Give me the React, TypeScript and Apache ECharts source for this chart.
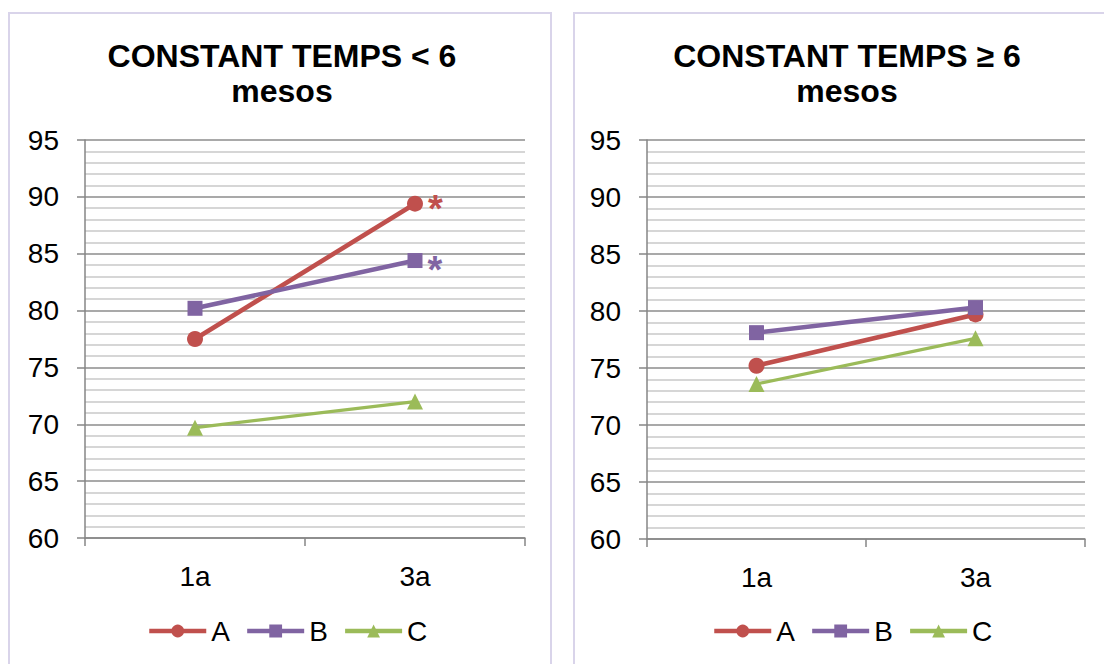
import React, { useEffect, useRef } from "react";
import * as echarts from "echarts";

// Categories (time points) shared by both panels
const categories = ["1a", "3a"];

// Panel 1: CONSTANT TEMPS < 6 mesos
const leftA = [77.5, 89.4];
const leftB = [80.2, 84.4];
const leftC = [69.7, 72.0];
// significance marks shown next to the points
const leftMarksA = ["", "*"];
const leftMarksB = ["", "*"];
const leftMarksC = ["", ""];

// Panel 2: CONSTANT TEMPS ≥ 6 mesos
const rightA = [75.2, 79.7];
const rightB = [78.1, 80.3];
const rightC = [73.6, 77.6];

const seriesNames = ["A", "B", "C"];
const titles = ["CONSTANT TEMPS < 6\nmesos", "CONSTANT TEMPS \u2265 6\nmesos"];

const yMin = 60;
const yMax = 95;
const yStep = 5;

const COLORS = { A: "#c0504d", B: "#8064a2", C: "#9bbb59" };
const FONT = "'Liberation Sans', Arial, Helvetica, sans-serif";
const AXIS_GREY = "#868686";

function makeYAxis(gridIndex: number) {
  return {
    type: "value",
    gridIndex,
    min: yMin,
    max: yMax,
    interval: yStep,
    axisLine: { show: true, lineStyle: { color: AXIS_GREY, width: 1.5 } },
    axisTick: { show: true, length: 8, lineStyle: { color: AXIS_GREY, width: 1.5 } },
    axisLabel: { fontSize: 28, color: "#000", fontFamily: FONT, margin: 26 },
    splitLine: { show: true, lineStyle: { color: "#8c8c8c", width: 1.6 } },
    minorTick: { show: false, splitNumber: 5 },
    minorSplitLine: { show: true, lineStyle: { color: "#c8c8c8", width: 1.6 } },
  };
}

function makeXAxis(gridIndex: number) {
  return {
    type: "category",
    gridIndex,
    data: categories,
    boundaryGap: true,
    axisLine: { show: true, lineStyle: { color: AXIS_GREY, width: 1.5 } },
    axisTick: { show: true, length: 8, interval: 0, lineStyle: { color: AXIS_GREY, width: 1.5 } },
    axisLabel: { fontSize: 28, color: "#000", fontFamily: FONT, margin: 24 },
    splitLine: { show: false },
  };
}

type Key = "A" | "B" | "C";

function makeSeries(
  name: Key,
  values: number[],
  gridIndex: number,
  marks: string[] | null,
  markOffset: number
) {
  const symbol = name === "A" ? "circle" : name === "B" ? "rect" : "triangle";
  const color = COLORS[name];
  return {
    type: "line",
    name,
    xAxisIndex: gridIndex,
    yAxisIndex: gridIndex,
    symbol,
    symbolSize: name === "B" ? 15 : 16,
    showAllSymbol: true,
    lineStyle: { color, width: name === "C" ? 3.2 : 4.6 },
    itemStyle: { color },
    emphasis: { disabled: true },
    data: values.map((v, i) => {
      const m = marks ? marks[i] : "";
      if (!m) return { value: v };
      return {
        value: v,
        label: {
          show: true,
          position: "right",
          distance: 5,
          offset: [0, markOffset],
          formatter: m,
          color,
          fontSize: 38,
          fontWeight: "bold",
          fontFamily: FONT,
        },
      };
    }),
  };
}

function makeLegend(left: number) {
  return {
    data: seriesNames,
    left,
    top: 617,
    orient: "horizontal",
    itemWidth: 57,
    itemHeight: 16,
    itemGap: 15,
    padding: 0,
    selectedMode: false,
    lineStyle: { width: 4.5 },
    textStyle: { fontSize: 28, color: "#000", fontFamily: FONT },
  };
}

function titleText(x: number, text: string) {
  return {
    type: "text",
    silent: true,
    x,
    y: 38,
    style: {
      text,
      textAlign: "center",
      textVerticalAlign: "top",
      fontSize: 32,
      fontWeight: "bold",
      fontFamily: FONT,
      lineHeight: 35,
      fill: "#000",
    },
  };
}

export default function App() {
  const ref = useRef<HTMLDivElement>(null);

  useEffect(() => {
    if (!ref.current) return;
    const chart = echarts.init(ref.current, null, { renderer: "svg" });

    const option = {
      animation: false,
      backgroundColor: "#ffffff",
      grid: [
        { left: 85, right: 1104 - 525, top: 140, bottom: 664 - 538 },
        { left: 647, right: 1104 - 1085, top: 140, bottom: 664 - 539 },
      ],
      xAxis: [makeXAxis(0), makeXAxis(1)],
      yAxis: [makeYAxis(0), makeYAxis(1)],
      legend: [makeLegend(147), makeLegend(712)],
      graphic: [
        {
          type: "rect",
          silent: true,
          shape: { x: 9, y: 13, width: 542, height: 700 },
          style: { fill: "none", stroke: "#d9d4ea", lineWidth: 2 },
        },
        {
          type: "rect",
          silent: true,
          shape: { x: 574, y: 13, width: 600, height: 700 },
          style: { fill: "none", stroke: "#d9d4ea", lineWidth: 2 },
        },
        titleText(282, titles[0]),
        titleText(847, titles[1]),
      ],
      series: [
        makeSeries("A", leftA, 0, leftMarksA, 5),
        makeSeries("B", leftB, 0, leftMarksB, 9),
        makeSeries("C", leftC, 0, leftMarksC, 0),
        makeSeries("A", rightA, 1, null, 0),
        makeSeries("B", rightB, 1, null, 0),
        makeSeries("C", rightC, 1, null, 0),
      ],
    };

    chart.setOption(option as any);
    return () => {
      chart.dispose();
    };
  }, []);

  return (
    <div
      ref={ref}
      style={{ position: "absolute", left: 0, top: 0, width: 1104, height: 664 }}
    />
  );
}
